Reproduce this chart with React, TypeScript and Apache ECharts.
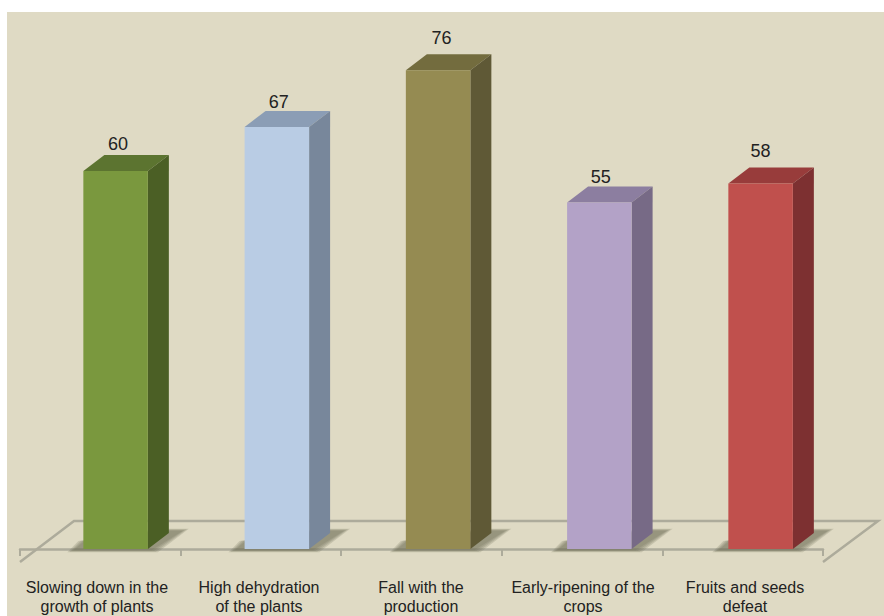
import React, { useEffect, useRef } from "react";
import * as echarts from "echarts";

const categories = [
  "Slowing down in the\ngrowth of plants",
  "High dehydration\nof the plants",
  "Fall with the\nproduction",
  "Early-ripening of the\ncrops",
  "Fruits and seeds\ndefeat",
];
const values = [60, 67, 76, 55, 58];
const frontColors = ["#7a983e", "#b9cce4", "#958b52", "#b3a2c7", "#c0504d"];
const topColors = ["#5c7430", "#8b9db5", "#736c3e", "#8c7ea0", "#983c3b"];
const sideColors = ["#4b5f25", "#78879b", "#5f5936", "#776a86", "#7d3031"];
const labelLifts = [27, 25, 32, 26, 33];
const labelNudges = [0.5, 0, 1.5, -0.5, -2];
const shadowSpreads = [7, 5, 3, 1];

const BAR_OFFSET = 18.6;
const BAR_DRIFT = -0.75;
const BAR_WIDTH = 64.5;
const DEPTH_X = 21;
const DEPTH_Y = 16;
const FONT_FAMILY = "'Liberation Sans', Arial, sans-serif";
const FLOOR_LINE = "#adab9b";

const renderBar = (params: any, api: any) => {
  const i = params.dataIndex;
  const [cx, top] = api.coord([i, api.value(1)]);
  const [, base] = api.coord([i, 0]);
  const x0 = cx + BAR_OFFSET + i * BAR_DRIFT - BAR_WIDTH / 2;
  const x1 = x0 + BAR_WIDTH;
  // Stacked translucent layers give the floor shadow its soft edge
  const shadowLayers = shadowSpreads.map((s) => ({
    type: "polygon",
    shape: {
      points: [
        [x0 - 9 - s, base + 1 + s / 3],
        [x1 + 3 + s, base + 1 + s / 3],
        [x1 + DEPTH_X + 13 + s, base - 18 - s / 3],
        [x1 + DEPTH_X - 4 - s, base - 18 - s / 3],
        [x0 + 2 - s, base - 8],
      ],
    },
    style: { fill: "#6f6d58", opacity: 0.22 },
  }));
  return {
    type: "group",
    children: [
      ...shadowLayers,
      {
        type: "polygon",
        shape: {
          points: [
            [x0, top],
            [x0 + DEPTH_X, top - DEPTH_Y],
            [x1 + DEPTH_X, top - DEPTH_Y],
            [x1, top],
          ],
        },
        style: { fill: topColors[i] },
      },
      {
        type: "polygon",
        shape: {
          points: [
            [x1, top],
            [x1 + DEPTH_X, top - DEPTH_Y],
            [x1 + DEPTH_X, base - DEPTH_Y],
            [x1, base],
          ],
        },
        style: { fill: sideColors[i] },
      },
      {
        type: "rect",
        shape: { x: x0, y: top, width: BAR_WIDTH, height: base - top },
        style: { fill: frontColors[i] },
      },
      {
        type: "text",
        style: {
          x: x0 + BAR_WIDTH / 2 + 2 + labelNudges[i],
          y: top - labelLifts[i],
          text: String(values[i]),
          font: `18px ${FONT_FAMILY}`,
          fill: "#222222",
          align: "center",
          verticalAlign: "middle",
        },
      },
    ],
  };
};

export default function App() {
  const ref = useRef<HTMLDivElement>(null);
  useEffect(() => {
    const chart = echarts.init(ref.current!, undefined, { renderer: "svg" });
    chart.setOption({
      animation: false,
      backgroundColor: "#ffffff",
      graphic: [
        {
          type: "rect",
          z: -10,
          silent: true,
          shape: { x: 7, y: 12, width: 877, height: 604 },
          style: { fill: "#dfdac4" },
        },
        {
          type: "polyline",
          z: -5,
          silent: true,
          shape: { points: [[20, 562], [74, 521], [878, 521], [823, 562]] },
          style: { fill: "none", stroke: FLOOR_LINE, lineWidth: 2.5 },
        },
      ],
      // The first grid carries the labels and bars, the second the floor edge and its ticks
      grid: [
        { left: 16, width: 810, top: 45, height: 504 },
        { left: 20, width: 803, top: 45, height: 504 },
      ],
      xAxis: [
        {
          gridIndex: 0,
          type: "category",
          data: categories,
          offset: 13,
          axisLine: { show: false },
          axisTick: { show: false },
          axisLabel: {
            color: "#222222",
            fontFamily: FONT_FAMILY,
            fontSize: 16,
            lineHeight: 19,
            margin: 16,
            interval: 0,
          },
        },
        {
          gridIndex: 1,
          type: "category",
          data: categories,
          offset: 13,
          axisLine: { lineStyle: { color: FLOOR_LINE, width: 2.5 } },
          axisTick: { show: true, length: 7, lineStyle: { color: FLOOR_LINE, width: 2 } },
          axisLabel: { show: false },
        },
      ],
      yAxis: [
        { gridIndex: 0, type: "value", min: 0, max: 80, show: false },
        { gridIndex: 1, type: "value", min: 0, max: 80, show: false },
      ],
      series: [
        {
          type: "custom",
          xAxisIndex: 0,
          yAxisIndex: 0,
          clip: false,
          renderItem: renderBar,
          encode: { x: 0, y: 1 },
          data: values.map((v, i) => [i, v]),
        },
      ],
    });
    return () => chart.dispose();
  }, []);
  return <div ref={ref} style={{ position: "absolute", left: 0, top: 0, width: 884, height: 616 }} />;
}
